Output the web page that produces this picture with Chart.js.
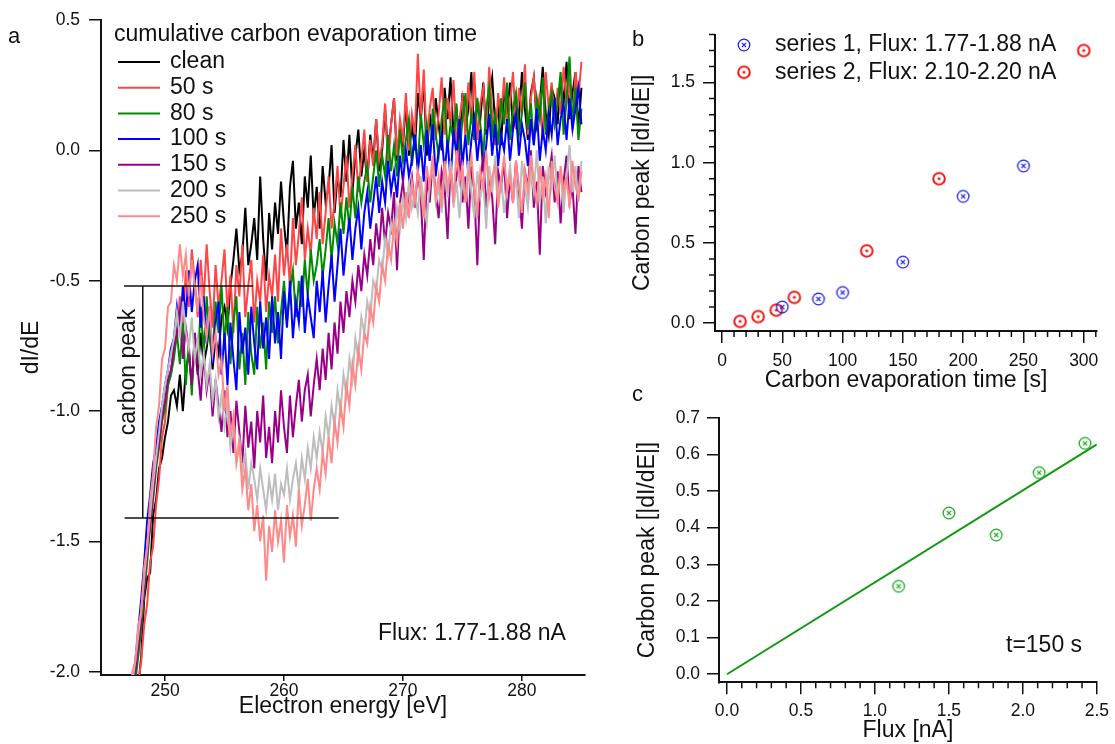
<!DOCTYPE html>
<html>
<head>
<meta charset="utf-8">
<script src="https://cdn.jsdelivr.net/npm/chart.js@4.4.1/dist/chart.umd.min.js"></script>
<style>
  html, body { margin: 0; padding: 0; background: #fff; }
  #page { position: relative; width: 1115px; height: 744px; overflow: hidden;
          font-family: 'Liberation Sans', Arial, Helvetica, sans-serif; }
  #page canvas { position: absolute; left: 0; top: 0; }
  .tag { position: absolute; font-size: 22px; line-height: 22px; color: #111; }
</style>
</head>
<body>
<div id="page">
  <canvas id="chartA" width="1115" height="744"></canvas>
  <canvas id="chartB" width="1115" height="744"></canvas>
  <canvas id="chartC" width="1115" height="744"></canvas>
  <div class="tag" style="left:8px;top:25px">a</div>
  <div class="tag" style="left:632px;top:28px">b</div>
  <div class="tag" style="left:632px;top:383px">c</div>
</div>
<script>
// ---------- (a) dI/dE spectra around the carbon KLL edge ----------
const energy = [
  247, 247.25, 247.5, 247.75, 248, 248.25, 248.5, 248.75, 249, 249.25, 249.5, 249.75, 250, 250.25, 250.5, 250.75,
  251, 251.25, 251.5, 251.75, 252, 252.25, 252.5, 252.75, 253, 253.25, 253.5, 253.75, 254, 254.25, 254.5, 254.75,
  255, 255.25, 255.5, 255.75, 256, 256.25, 256.5, 256.75, 257, 257.25, 257.5, 257.75, 258, 258.25, 258.5, 258.75,
  259, 259.25, 259.5, 259.75, 260, 260.25, 260.5, 260.75, 261, 261.25, 261.5, 261.75, 262, 262.25, 262.5, 262.75,
  263, 263.25, 263.5, 263.75, 264, 264.25, 264.5, 264.75, 265, 265.25, 265.5, 265.75, 266, 266.25, 266.5, 266.75,
  267, 267.25, 267.5, 267.75, 268, 268.25, 268.5, 268.75, 269, 269.25, 269.5, 269.75, 270, 270.25, 270.5, 270.75,
  271, 271.25, 271.5, 271.75, 272, 272.25, 272.5, 272.75, 273, 273.25, 273.5, 273.75, 274, 274.25, 274.5, 274.75,
  275, 275.25, 275.5, 275.75, 276, 276.25, 276.5, 276.75, 277, 277.25, 277.5, 277.75, 278, 278.25, 278.5, 278.75,
  279, 279.25, 279.5, 279.75, 280, 280.25, 280.5, 280.75, 281, 281.25, 281.5, 281.75, 282, 282.25, 282.5, 282.75,
  283, 283.25, 283.5, 283.75, 284, 284.25, 284.5, 284.75, 285
];
const clean = [
  -2.55, -2.38, -2.27, -2.06, -1.94, -1.72, -1.64, -1.62, -1.4, -1.34, -1.22, -1.18, -1.1, -1.04, -0.94, -0.92,
  -0.98, -0.86, -1.0, -0.84, -0.78, -0.9, -0.74, -0.86, -0.7, -0.82, -0.76, -0.66, -0.84, -0.72, -0.78, -0.64,
  -0.6, -0.68, -0.52, -0.42, -0.3, -0.46, -0.4, -0.22, -0.44, -0.36, -0.26, -0.42, -0.1, -0.34, -0.5, -0.24,
  -0.38, -0.2, -0.32, -0.12, -0.28, -0.4, -0.14, -0.04, -0.3, -0.2, -0.36, -0.1, -0.22, -0.02, -0.26, -0.14,
  -0.3, -0.06, -0.2, -0.14, 0.02, -0.24, -0.1, -0.18, 0.04, -0.12, 0.06, -0.16, -0.02, 0.08, -0.1, 0.0,
  -0.12, 0.06, -0.04, 0.12, -0.08, 0.0, 0.16, -0.02, 0.1, 0.2, -0.04, 0.08, 0.02, 0.18, -0.02, 0.1,
  0.0, 0.22, 0.12, 0.26, -0.02, 0.14, 0.04, 0.2, 0.1, 0.0, 0.24, 0.12, 0.28, 0.06, 0.16, 0.02,
  0.22, 0.08, 0.16, 0.3, 0.04, 0.18, 0.12, 0.26, 0.06, 0.2, 0.28, 0.1, 0.16, 0.02, 0.24, 0.14,
  0.26, 0.08, 0.2, 0.12, 0.3, 0.16, 0.04, 0.22, 0.28, 0.1, 0.18, 0.32, 0.14, 0.06, 0.24, 0.2,
  0.1, 0.28, 0.18, 0.34, 0.12, 0.22, 0.3, 0.08, 0.24
];
const carbon50s = [
  -2.45, -2.3, -2.18, -2.04, -1.96, -1.82, -1.74, -1.58, -1.52, -1.36, -1.26, -1.1, -1.04, -0.9, -0.86, -0.74,
  -0.72, -0.56, -0.68, -0.46, -0.6, -0.38, -0.5, -0.64, -0.42, -0.58, -0.36, -0.54, -0.68, -0.44, -0.6, -0.5,
  -0.38, -0.62, -0.48, -0.7, -0.44, -0.56, -0.36, -0.64, -0.52, -0.42, -0.66, -0.5, -0.58, -0.4, -0.62, -0.48,
  -0.56, -0.4, -0.58, -0.3, -0.48, -0.36, -0.52, -0.26, -0.44, -0.32, -0.18, -0.42, -0.3, -0.4, -0.22, -0.34,
  -0.16, -0.36, -0.24, -0.1, -0.3, -0.2, -0.06, -0.26, -0.14, -0.02, -0.22, -0.1, 0.02, -0.16, -0.04, 0.08,
  -0.12, 0.04, -0.06, 0.12, -0.04, 0.02, 0.18, -0.06, 0.1, 0.2, -0.02, 0.12, 0.04, 0.22, 0.0, 0.14,
  0.06, 0.37, 0.12, 0.31, 0.02, 0.16, 0.24, 0.04, 0.14, 0.28, 0.06, 0.2, 0.1, 0.27, 0.02, 0.12,
  0.2, 0.06, 0.26, 0.1, 0.3, 0.04, 0.18, 0.24, 0.08, 0.32, 0.14, 0.02, 0.22, 0.12, 0.28, 0.1,
  0.18, 0.3, 0.08, 0.24, 0.14, 0.33, 0.06, 0.2, 0.28, 0.12, 0.22, 0.04, 0.3, 0.16, 0.26, 0.1,
  0.24, 0.14, 0.32, 0.18, 0.26, 0.08, 0.3, 0.2, 0.34
];
const carbon80s = [
  -2.3, -2.14, -2.04, -1.94, -1.84, -1.7, -1.58, -1.44, -1.34, -1.22, -1.14, -1.04, -0.99, -0.9, -0.86, -0.8,
  -0.7, -0.82, -0.66, -0.9, -0.74, -0.94, -0.7, -0.82, -0.6, -0.78, -0.56, -0.72, -0.8, -0.58, -0.7, -0.52,
  -0.74, -0.6, -0.82, -0.66, -0.56, -0.84, -0.7, -0.9, -0.62, -0.78, -0.86, -0.6, -0.76, -0.66, -0.84, -0.58,
  -0.7, -0.56, -0.74, -0.62, -0.5, -0.66, -0.54, -0.46, -0.64, -0.5, -0.6, -0.42, -0.56, -0.38, -0.5, -0.44,
  -0.34, -0.48, -0.38, -0.26, -0.42, -0.28, -0.36, -0.2, -0.32, -0.18, -0.3, -0.14, -0.26, -0.1, -0.2, -0.12,
  -0.06, -0.2, -0.1, 0.0, -0.14, -0.02, -0.1, 0.06, -0.08, 0.02, -0.1, 0.08, -0.04, 0.04, 0.12, -0.06,
  0.06, -0.06, 0.14, 0.02, 0.1, -0.04, 0.16, 0.06, -0.02, 0.12, 0.2, 0.0, 0.1, 0.04, 0.18, -0.02,
  0.12, 0.22, 0.02, 0.14, 0.06, 0.2, 0.1, -0.02, 0.16, 0.24, 0.06, 0.14, 0.02, 0.2, 0.1, 0.26,
  0.04, 0.16, 0.22, 0.06, 0.14, 0.26, 0.08, 0.18, 0.02, 0.2, 0.12, 0.28, 0.06, 0.16, 0.22, 0.1,
  0.18, 0.3, 0.06, 0.2, 0.36, 0.1, 0.24, 0.04, 0.16
];
const carbon100s = [
  -2.2, -2.06, -1.96, -1.84, -1.72, -1.58, -1.42, -1.32, -1.2, -1.14, -1.04, -0.98, -0.9, -0.84, -0.76, -0.72,
  -0.6, -0.7, -0.52, -0.64, -0.46, -0.62, -0.5, -0.44, -0.68, -0.56, -0.74, -0.6, -0.82, -0.66, -0.58, -0.86,
  -0.7, -0.9, -0.66, -0.8, -0.92, -0.62, -0.78, -0.68, -0.86, -0.6, -0.74, -0.84, -0.58, -0.76, -0.64, -0.8,
  -0.56, -0.74, -0.62, -0.8, -0.54, -0.68, -0.5, -0.72, -0.58, -0.66, -0.48, -0.7, -0.56, -0.64, -0.72, -0.5,
  -0.62, -0.46, -0.66, -0.52, -0.4, -0.58, -0.44, -0.3, -0.48, -0.36, -0.26, -0.42, -0.3, -0.22, -0.38, -0.24,
  -0.16, -0.3, -0.2, -0.1, -0.24, -0.12, -0.2, -0.04, -0.16, -0.08, -0.18, -0.02, -0.12, 0.0, -0.1, -0.04,
  0.06, -0.08, 0.02, -0.12, 0.08, -0.04, 0.1, -0.1, 0.0, 0.06, -0.08, 0.04, -0.12, 0.08, -0.02, 0.12,
  -0.06, 0.06, -0.1, 0.04, 0.12, -0.04, 0.08, -0.08, 0.02, 0.14, -0.02, 0.1, -0.06, 0.06, 0.0, 0.12,
  -0.04, 0.08, 0.14, -0.02, 0.1, 0.04, -0.06, 0.12, 0.02, 0.16, -0.04, 0.08, 0.0, 0.14, 0.06, 0.2,
  0.02, 0.12, 0.18, 0.04, 0.2, 0.08, 0.16, 0.24, 0.1
];
const carbon150s = [
  -2.28, -2.12, -2.0, -1.9, -1.8, -1.68, -1.54, -1.44, -1.32, -1.2, -1.12, -1.02, -0.96, -0.88, -0.84, -0.76,
  -0.7, -0.62, -0.8, -0.68, -0.76, -0.9, -0.7, -0.84, -0.96, -0.78, -0.92, -0.84, -1.02, -0.88, -0.98, -1.08,
  -0.92, -1.1, -1.0, -1.16, -0.96, -1.08, -1.2, -0.98, -1.14, -1.04, -1.22, -1.0, -1.12, -0.94, -1.18, -1.06,
  -1.2, -1.0, -1.12, -0.92, -1.06, -1.16, -0.94, -1.1, -0.98, -0.88, -1.04, -0.92, -0.86, -1.02, -0.9, -0.8,
  -0.92, -0.76, -0.88, -0.7, -0.84, -0.66, -0.78, -0.58, -0.7, -0.54, -0.64, -0.5, -0.58, -0.44, -0.54, -0.4,
  -0.48, -0.34, -0.44, -0.28, -0.38, -0.22, -0.36, -0.24, -0.3, -0.16, -0.46, -0.2, -0.12, -0.26, -0.16, -0.1,
  -0.22, -0.08, -0.18, -0.42, -0.1, -0.2, -0.04, -0.16, -0.26, -0.08, -0.14, -0.34, -0.06, -0.18, -0.1, -0.02,
  -0.2, -0.1, -0.3, -0.06, -0.16, -0.44, -0.12, -0.02, -0.22, -0.1, -0.18, -0.36, -0.08, -0.14, -0.04, -0.26,
  -0.1, -0.2, -0.04, -0.16, -0.3, -0.08, -0.14, 0.0, -0.22, -0.12, -0.4, -0.06, -0.16, -0.1, -0.02, -0.2,
  -0.08, -0.28, -0.12, -0.02, -0.2, -0.14, -0.32, -0.06, -0.16
];
const carbon200s = [
  -2.18, -2.04, -1.96, -1.86, -1.76, -1.64, -1.52, -1.4, -1.28, -1.18, -1.08, -0.98, -0.9, -0.84, -0.78, -0.72,
  -0.62, -0.72, -0.58, -0.7, -0.76, -0.64, -0.8, -0.72, -0.86, -0.78, -0.9, -0.82, -0.96, -0.88, -1.02, -0.94,
  -1.06, -0.98, -1.14, -1.06, -1.2, -1.1, -1.24, -1.16, -1.3, -1.2, -1.26, -1.34, -1.22, -1.3, -1.38, -1.26,
  -1.34, -1.24, -1.38, -1.28, -1.32, -1.22, -1.34, -1.26, -1.2, -1.3, -1.18, -1.26, -1.14, -1.22, -1.1, -1.18,
  -1.08, -1.16, -1.02, -1.1, -0.98, -1.06, -0.92, -1.0, -0.86, -0.94, -0.8, -0.88, -0.72, -0.8, -0.64, -0.7,
  -0.58, -0.64, -0.5, -0.54, -0.42, -0.46, -0.34, -0.4, -0.28, -0.34, -0.22, -0.3, -0.18, -0.26, -0.12, -0.22,
  -0.16, -0.24, -0.1, -0.2, -0.28, -0.12, -0.06, -0.2, -0.14, -0.24, -0.08, -0.18, -0.04, -0.22, -0.12, -0.26,
  -0.1, -0.2, -0.04, -0.16, -0.26, -0.08, -0.18, -0.12, -0.3, -0.06, -0.16, -0.02, -0.2, -0.1, -0.24, -0.14,
  -0.06, -0.18, -0.1, -0.26, -0.04, -0.14, -0.22, -0.08, -0.16, 0.0, -0.2, -0.1, -0.28, -0.06, -0.14, -0.02,
  -0.18, -0.08, -0.24, -0.1, 0.02, -0.16, -0.06, -0.2, -0.04
];
const carbon250s = [
  -2.12, -2.0, -1.96, -1.82, -1.78, -1.6, -1.52, -1.34, -1.24, -1.06, -0.98, -0.8, -0.76, -0.6, -0.58, -0.44,
  -0.5, -0.36, -0.48, -0.4, -0.56, -0.42, -0.52, -0.62, -0.48, -0.64, -0.72, -0.6, -0.78, -0.7, -0.86, -0.8,
  -1.0, -0.9, -1.1, -1.02, -1.2, -1.12, -1.3, -1.22, -1.38, -1.28, -1.46, -1.36, -1.5, -1.4, -1.65, -1.44,
  -1.54, -1.38, -1.5, -1.42, -1.58, -1.36, -1.48, -1.4, -1.52, -1.3, -1.44, -1.36, -1.26, -1.42, -1.3, -1.22,
  -1.3, -1.16, -1.24, -1.1, -1.2, -1.04, -1.12, -0.98, -1.06, -0.9, -0.98, -0.82, -0.9, -0.76, -0.84, -0.7,
  -0.74, -0.6, -0.66, -0.52, -0.58, -0.44, -0.5, -0.36, -0.42, -0.28, -0.36, -0.2, -0.3, -0.16, -0.26, -0.12,
  -0.2, -0.08, -0.16, -0.26, -0.06, -0.14, -0.02, -0.18, -0.1, -0.22, -0.04, -0.14, -0.08, -0.2, 0.0, -0.12,
  -0.06, -0.2, -0.1, -0.02, -0.16, -0.24, -0.08, -0.14, 0.0, -0.18, -0.1, -0.06, -0.22, -0.12, -0.02, -0.16,
  -0.1, -0.2, -0.04, -0.14, -0.24, -0.08, -0.16, -0.02, -0.12, -0.2, -0.06, -0.18, -0.1, -0.26, -0.04, -0.14,
  -0.2, -0.06, -0.16, -0.1, -0.22, -0.04, -0.14, -0.18, -0.08
];
const spectrumLabels = ['clean', '50 s', '80 s', '100 s', '150 s', '200 s', '250 s'];
const spectrumValues = [clean, carbon50s, carbon80s, carbon100s, carbon150s, carbon200s, carbon250s];
const energyTicks = [250, 260, 270, 280];
const dIdETicks = [0.5, 0.0, -0.5, -1.0, -1.5, -2.0];
// carbon peak bracket: reference levels and energy extents of its three strokes
const peakTopLevel = [-0.52, -0.52];
const peakTopEnergy = [246.55, 257.4];
const peakBottomLevel = [-1.41, -1.41];
const peakBottomEnergy = [246.6, 264.6];
const peakBarEnergy = [248.13, 248.13];
const peakBarLevel = [-0.52, -1.41];

// ---------- (b) carbon peak height vs evaporation time ----------
const series1Time = [50, 80, 100, 150, 200, 250];
const series1Peak = [0.10, 0.15, 0.19, 0.38, 0.79, 0.98];
const series2Time = [15, 30, 45, 60, 120, 180, 300];
const series2Peak = [0.01, 0.04, 0.08, 0.16, 0.45, 0.90, 1.70];
const timeTicks = [0, 50, 100, 150, 200, 250, 300];
const peakTicksB = [0.0, 0.5, 1.0, 1.5];

// ---------- (c) carbon peak height vs flux at t = 150 s ----------
const fluxValues = [1.16, 1.50, 1.82, 2.11, 2.42];
const peakAt150s = [0.24, 0.44, 0.38, 0.55, 0.63];
const fitFlux = [0.0, 2.5];
const fitPeak = [0.0, 0.627];
const fluxTicks = [0.0, 0.5, 1.0, 1.5, 2.0, 2.5];
const peakTicksC = [0.0, 0.1, 0.2, 0.3, 0.4, 0.5, 0.6, 0.7];

// ---------- shared styling ----------
const FONT = "'Liberation Sans', Arial, Helvetica, sans-serif";
const INK = '#111';
const TICK_SIZE = 17.5;
const TITLE_SIZE = 23;
const spectrumColors = ['#000000', '#ff4545', '#008a00', '#0000ff', '#990088', '#bdbdbd', '#ff8888'];

Chart.defaults.font.family = FONT;
Chart.defaults.color = INK;

const pts = (xs, ys) => xs.map((x, i) => ({ x, y: ys[i] }));

function axis({ position, min, max, ticks, fmt, size, tickLen, pad, title, titlePad }) {
  return {
    type: 'linear', position, min, max,
    afterBuildTicks: s => { s.ticks = ticks.map(v => ({ value: v })); },
    afterFit: s => { if (position === 'left') s.width = size; else s.height = size; },
    ticks: { font: { size: TICK_SIZE }, color: INK, padding: pad, callback: fmt,
             maxRotation: 0, minRotation: 0, autoSkip: false },
    grid: { drawOnChartArea: false, drawTicks: true, tickLength: tickLen,
            color: INK, lineWidth: 1.5 },
    border: { display: true, color: INK, width: 2 },
    title: { display: true, text: title, font: { size: TITLE_SIZE }, color: INK, padding: titlePad }
  };
}

// short unlabelled ticks between the labelled ones
const minorTicks = {
  id: 'minorTicks',
  afterDraw(chart, args, o) {
    const ctx = chart.ctx;
    (o.axes || []).forEach(a => {
      const s = chart.scales[a.id];
      const majors = s.ticks.map(t => t.value);
      ctx.save();
      ctx.strokeStyle = INK; ctx.lineWidth = 1.5;
      ctx.beginPath();
      for (let k = Math.ceil(s.min / a.step - 1e-9); k * a.step <= s.max + 1e-9; k++) {
        const v = k * a.step;
        if (majors.some(m => Math.abs(m - v) < 1e-6)) continue;
        const p = s.getPixelForValue(v);
        if (s.isHorizontal()) { ctx.moveTo(p, s.top); ctx.lineTo(p, s.top + a.len); }
        else { ctx.moveTo(s.right, p); ctx.lineTo(s.right - a.len, p); }
      }
      ctx.stroke();
      ctx.restore();
    });
  }
};

// free text placed on the canvas
const notes = {
  id: 'notes',
  afterDraw(chart, args, o) {
    const ctx = chart.ctx;
    (o.items || []).forEach(n => {
      ctx.save();
      ctx.font = `${n.size}px ${FONT}`;
      ctx.fillStyle = INK;
      ctx.textAlign = n.align || 'left';
      ctx.textBaseline = 'middle';
      ctx.fillText(n.text, n.x, n.y);
      ctx.restore();
    });
  }
};

// vertical caption next to the carbon peak bracket
const bracketLabel = {
  id: 'bracketLabel',
  afterDatasetsDraw(chart, args, o) {
    const { x, y } = chart.scales;
    const ctx = chart.ctx;
    ctx.save();
    ctx.translate(x.getPixelForValue(o.atX) - o.gap, y.getPixelForValue(o.atY));
    ctx.rotate(-Math.PI / 2);
    ctx.font = `${TITLE_SIZE}px ${FONT}`;
    ctx.fillStyle = INK;
    ctx.textAlign = 'center';
    ctx.textBaseline = 'bottom';
    ctx.fillText(o.text, 0, 0);
    ctx.restore();
  }
};

// line-sample legend with a heading
const lineLegend = {
  id: 'lineLegend',
  afterDraw(chart, args, o) {
    const ctx = chart.ctx;
    ctx.save();
    ctx.font = `${TITLE_SIZE}px ${FONT}`;
    ctx.fillStyle = INK;
    ctx.textBaseline = 'middle';
    ctx.fillText(o.title, o.titleX, o.titleY);
    let row = 0;
    chart.data.datasets.forEach(d => {
      if (!d.inLegend) return;
      const y = o.firstY + row * o.rowGap;
      ctx.strokeStyle = d.borderColor; ctx.lineWidth = 2;
      ctx.beginPath(); ctx.moveTo(o.lineX0, y); ctx.lineTo(o.lineX1, y); ctx.stroke();
      ctx.fillText(d.label, o.textX, y);
      row++;
    });
    ctx.restore();
  }
};

// marker legend using the datasets' own point images
const markerLegend = {
  id: 'markerLegend',
  afterDraw(chart, args, o) {
    const ctx = chart.ctx;
    ctx.save();
    ctx.font = `${TITLE_SIZE}px ${FONT}`;
    ctx.fillStyle = INK;
    ctx.textBaseline = 'middle';
    let row = 0;
    chart.data.datasets.forEach(d => {
      if (!d.inLegend) return;
      const y = o.firstY + row * o.rowGap;
      const img = d.pointStyle;
      ctx.drawImage(img, o.markerX - img.width / 2, y - img.height / 2);
      ctx.fillText(d.label, o.textX, y);
      row++;
    });
    ctx.restore();
  }
};

// circled markers: "cross" = circle with x, "dot" = circle with small plus
function marker(color, kind) {
  const c = document.createElement('canvas');
  c.width = 18; c.height = 18;
  const g = c.getContext('2d');
  g.strokeStyle = color;
  g.lineWidth = kind === 'dot' ? 2 : 1.3;
  g.beginPath(); g.arc(9, 9, 5.8, 0, Math.PI * 2); g.stroke();
  g.lineWidth = 1.3;
  g.beginPath();
  if (kind === 'cross') {
    g.moveTo(6.9, 6.9); g.lineTo(11.1, 11.1); g.moveTo(11.1, 6.9); g.lineTo(6.9, 11.1);
  } else {
    g.moveTo(7.4, 9); g.lineTo(10.6, 9); g.moveTo(9, 7.4); g.lineTo(9, 10.6);
  }
  g.stroke();
  return c;
}

// ---------- panel a ----------
const spectraSets = spectrumValues.map((vals, i) => ({
  label: spectrumLabels[i],
  data: pts(energy, vals),
  borderColor: spectrumColors[i],
  borderWidth: 2,
  showLine: true,
  pointRadius: 0,
  order: spectrumValues.length - i,
  inLegend: true
}));
const guide = (xs, ys) => ({
  data: pts(xs, ys), borderColor: INK, borderWidth: 1.5,
  showLine: true, pointRadius: 0, order: 0
});

new Chart(document.getElementById('chartA'), {
  type: 'scatter',
  data: {
    datasets: [
      ...spectraSets,
      guide(peakTopEnergy, peakTopLevel),
      guide(peakBottomEnergy, peakBottomLevel),
      guide(peakBarEnergy, peakBarLevel)
    ]
  },
  options: {
    responsive: false, animation: false, events: [],
    layout: { padding: { left: 0, top: 20, right: 530, bottom: 0 } },
    plugins: {
      legend: { display: false }, tooltip: { enabled: false },
      lineLegend: { title: 'cumulative carbon evaporation time', titleX: 114, titleY: 35,
                    firstY: 62, rowGap: 25.7, lineX0: 118, lineX1: 160, textX: 170 },
      bracketLabel: { text: 'carbon peak', atX: peakBarEnergy[0], atY: -0.85, gap: 3 },
      notes: { items: [{ text: 'Flux: 1.77-1.88 nA', x: 378, y: 634, size: TITLE_SIZE }] }
    },
    scales: {
      x: axis({ position: 'bottom', min: 244.62, max: 285.3, ticks: energyTicks,
                fmt: v => String(v), size: 69, tickLen: 6, pad: 0,
                title: 'Electron energy [eV]', titlePad: { top: 0, bottom: 24 } }),
      y: axis({ position: 'left', min: -2.012, max: 0.5, ticks: dIdETicks,
                fmt: v => v.toFixed(1), size: 101, tickLen: 12, pad: 9,
                title: 'dI/dE', titlePad: { top: 18, bottom: 0 } })
    }
  },
  plugins: [lineLegend, bracketLabel, notes]
});

// ---------- panel b ----------
new Chart(document.getElementById('chartB'), {
  type: 'scatter',
  data: {
    datasets: [
      { label: 'series 1, Flux: 1.77-1.88 nA', data: pts(series1Time, series1Peak),
        pointStyle: marker('#2020e8', 'cross'), pointRadius: 6, inLegend: true },
      { label: 'series 2, Flux: 2.10-2.20 nA', data: pts(series2Time, series2Peak),
        pointStyle: marker('#f01414', 'dot'), pointRadius: 6, inLegend: true }
    ]
  },
  options: {
    responsive: false, animation: false, events: [],
    layout: { padding: { left: 600, top: 34.5, right: 18, bottom: 344 } },
    plugins: {
      legend: { display: false }, tooltip: { enabled: false },
      markerLegend: { firstY: 45, rowGap: 27.3, markerX: 744, textX: 775 },
      minorTicks: { axes: [{ id: 'x', step: 10, len: 6 }, { id: 'y', step: 0.1, len: 6 }] }
    },
    scales: {
      x: axis({ position: 'bottom', min: -5.8, max: 311, ticks: timeTicks,
                fmt: v => String(v), size: 69, tickLen: 12, pad: 8,
                title: 'Carbon evaporation time [s]', titlePad: { top: 0, bottom: 6 } }),
      y: axis({ position: 'left', min: -0.05, max: 1.8, ticks: peakTicksB,
                fmt: v => v.toFixed(1), size: 115, tickLen: 12, pad: 8,
                title: 'Carbon peak [|dI/dE|]', titlePad: { top: 29, bottom: 0 } })
    }
  },
  plugins: [markerLegend, minorTicks]
});

// ---------- panel c ----------
new Chart(document.getElementById('chartC'), {
  type: 'scatter',
  data: {
    datasets: [
      { label: 't=150 s', data: pts(fluxValues, peakAt150s),
        pointStyle: marker('#1fa81f', 'cross'), pointRadius: 6, order: 0 },
      { label: 'fit', data: pts(fitFlux, fitPeak), showLine: true, pointRadius: 0,
        borderColor: '#119911', borderWidth: 2, order: 1 }
    ]
  },
  options: {
    responsive: false, animation: false, events: [],
    layout: { padding: { left: 600, top: 417.7, right: 16, bottom: 0 } },
    plugins: {
      legend: { display: false }, tooltip: { enabled: false },
      minorTicks: { axes: [{ id: 'x', step: 0.1, len: 6 }] },
      notes: { items: [{ text: 't=150 s', x: 1006, y: 646, size: TITLE_SIZE }] }
    },
    scales: {
      x: axis({ position: 'bottom', min: -0.054, max: 2.5, ticks: fluxTicks,
                fmt: v => v.toFixed(1), size: 61.7, tickLen: 12, pad: 6,
                title: 'Flux [nA]', titlePad: { top: 0, bottom: 0 } }),
      y: axis({ position: 'left', min: -0.022, max: 0.7, ticks: peakTicksC,
                fmt: v => v.toFixed(1), size: 119, tickLen: 12, pad: 7,
                title: 'Carbon peak [|dI/dE|]', titlePad: { top: 34, bottom: 0 } })
    }
  },
  plugins: [minorTicks, notes]
});
</script>
</body>
</html>
